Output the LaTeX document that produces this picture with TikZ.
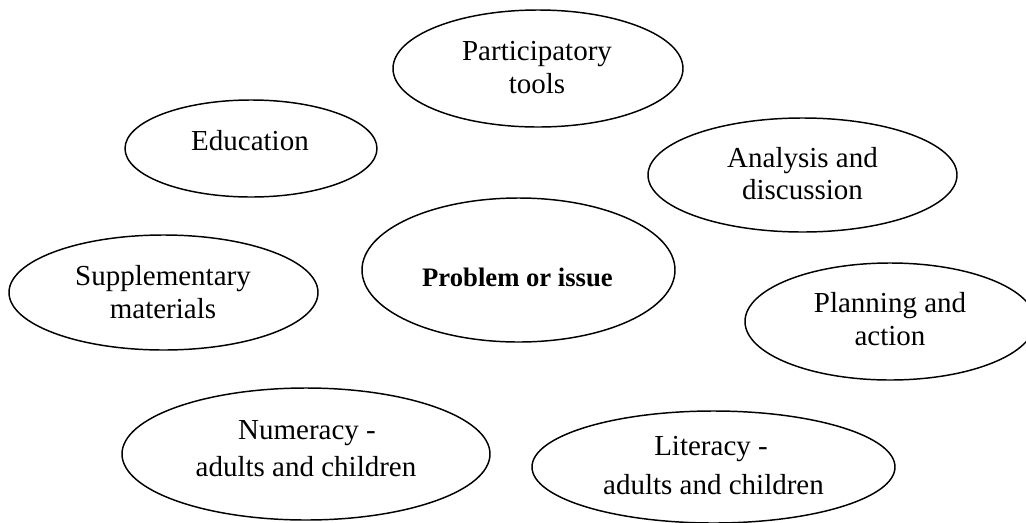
\documentclass[tikz,border=0pt]{standalone}
\usepackage{fontspec}
\setmainfont{Liberation Serif}
\usetikzlibrary{shapes.geometric}
\begin{document}
\begin{tikzpicture}[x=0.75pt,y=-0.75pt,
  oval/.style={draw=black, line width=1.1pt, ellipse, inner sep=0pt},
  lbl/.style={anchor=base, inner sep=0pt, font=\fontsize{21.75pt}{25pt}\selectfont},
  blbl/.style={anchor=base, inner sep=0pt, font=\fontsize{20pt}{24pt}\selectfont\bfseries}]
\fill[white] (0,0) rectangle (1026,522);
\useasboundingbox (0,0) rectangle (1026,522);
% ellipses
\node[oval, minimum width=217.5pt, minimum height=87.75pt] (par) at (538,68.5) {};
\node[oval, minimum width=189pt, minimum height=72.75pt] (edu) at (251,148.5) {};
\node[oval, minimum width=231.75pt, minimum height=85.5pt] (ana) at (802.5,175) {};
\node[oval, minimum width=231.75pt, minimum height=86.25pt] (sup) at (163.5,292.5) {};
\node[oval, minimum width=234.75pt, minimum height=108pt] (pro) at (518.5,270) {};
\node[oval, minimum width=217.5pt, minimum height=87.75pt] (pla) at (890,321.5) {};
\node[oval, minimum width=276pt, minimum height=99pt] (num) at (306,454) {};
\node[oval, minimum width=272.25pt, minimum height=84pt] (lit) at (713.5,467) {};
% labels
\node[lbl] (par1) at (537,60) {Participatory};
\node[lbl] (par2) at (537,93) {tools};
\node[lbl] (edu1) at (250,150) {Education};
\node[lbl] (ana1) at (802.5,167) {Analysis and};
\node[lbl] (ana2) at (802.5,199) {discussion};
\node[lbl] (sup1) at (163,285) {Supplementary};
\node[lbl] (sup2) at (163,318) {materials};
\node[blbl] (pro1) at (517.5,286) {Problem or issue};
\node[lbl] (pla1) at (890,312.5) {Planning and};
\node[lbl] (pla2) at (890,345.5) {action};
\node[lbl] (num1) at (307,439) {Numeracy -};
\node[lbl] (num2) at (306,476.5) {adults and children};
\node[lbl] (lit1) at (711,455) {Literacy -};
\node[lbl] (lit2) at (713.5,494) {adults and children};
\end{tikzpicture}
\end{document}
